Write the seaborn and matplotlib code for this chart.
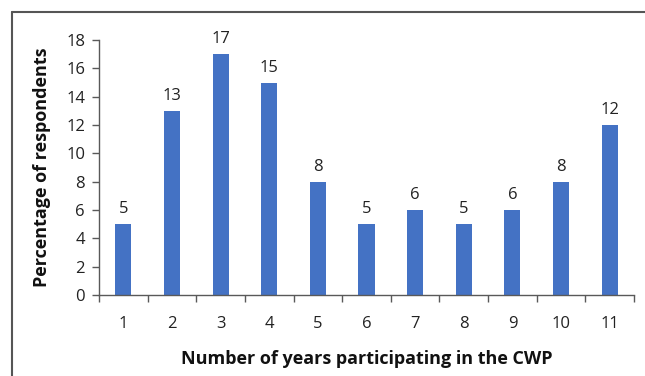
import matplotlib
matplotlib.use("Agg")
import matplotlib.pyplot as plt
import seaborn as sns
import numpy as np
import pandas as pd
from matplotlib.lines import Line2D

years = ["1", "2", "3", "4", "5", "6", "7", "8", "9", "10", "11"]
percent = [5, 13, 17, 15, 8, 5, 6, 5, 6, 8, 12]
y_ticks = [0, 2, 4, 6, 8, 10, 12, 14, 16, 18]

sns.set_theme(style="white")
plt.rcParams['font.family'] = ['Open Sans', 'DejaVu Sans']

fig = plt.figure(figsize=(6.45, 3.76), dpi=100)
ax = fig.add_axes([99/645, 1-295/376, (634-99)/645, (295-40)/376])

df = pd.DataFrame({"year": years, "pct": percent})
sns.barplot(data=df, x="year", y="pct", color="#4472C4", width=0.33,
            saturation=1, linewidth=0, ax=ax)

ax.set_ylim(0, 18)
ax.set_xlim(-0.5, len(years) - 0.5)
ax.set_yticks(y_ticks)
ax.set_yticklabels([str(t) for t in y_ticks], fontsize=12, color="#222222")
ax.set_xticks(range(len(years)))
ax.set_xticklabels(years, fontsize=12, color="#222222")
ax.set_xticks(np.arange(-0.5, len(years), 1.0), minor=True)
ax.tick_params(axis="x", which="major", length=0, pad=15)
ax.tick_params(axis="x", which="minor", length=5, width=1, color="#595959", direction="out", bottom=True)
ax.tick_params(axis="y", length=5, width=1, color="#595959", direction="out", left=True, pad=5)

for s in ["top", "right"]:
    ax.spines[s].set_visible(False)
for s in ["left", "bottom"]:
    ax.spines[s].set_color("#595959")
    ax.spines[s].set_linewidth(1)

for c in ax.containers:
    ax.bar_label(c, fontsize=12, padding=5, color="#222222")

ax.set_xlabel("Number of years participating in the CWP", fontsize=13,
              fontweight="bold", color="#111111", labelpad=13)
ax.set_ylabel("Percentage of respondents", fontsize=13,
              fontweight="bold", color="#111111", labelpad=11)

x0 = 11.5 / 645
y0 = 1 - 11.5 / 376
fig.lines.append(Line2D([x0, x0], [0, y0], transform=fig.transFigure,
                        color="#555555", linewidth=1.5))
fig.lines.append(Line2D([x0, 1], [y0, y0], transform=fig.transFigure,
                        color="#555555", linewidth=1.5))

fig.savefig("out.png", dpi=100)
